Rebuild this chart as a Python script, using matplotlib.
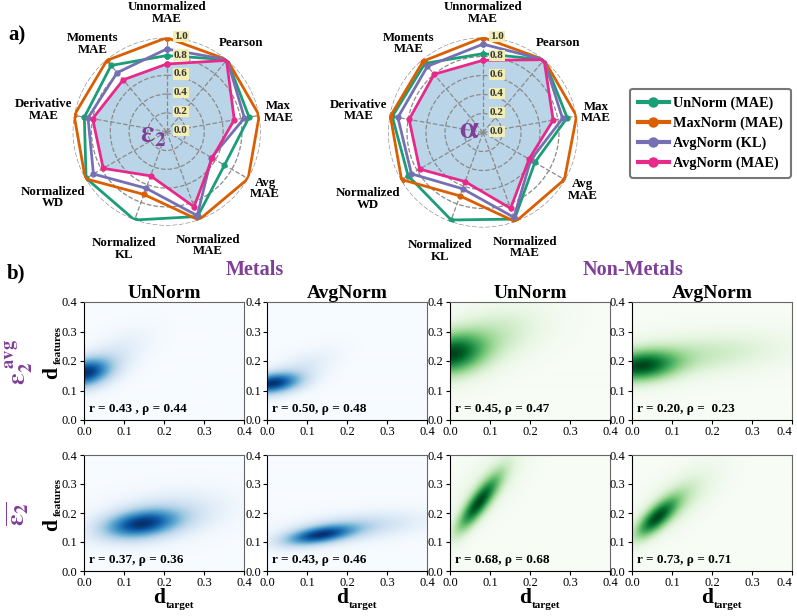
import numpy as np
import matplotlib
matplotlib.use("Agg")
import matplotlib.pyplot as plt
from matplotlib.lines import Line2D

plt.rcParams['font.family'] = ['Liberation Serif', 'DejaVu Serif']
plt.rcParams['mathtext.fontset'] = 'stix'

W, H = 797, 616

# ---------------- radar data ----------------
categories = ['Unnormalized\nMAE', 'Pearson', 'Max\nMAE', 'Avg\nMAE', 'Normalized\nMAE',
              'Normalized\nKL', 'Normalized\nWD', 'Derivative\nMAE', 'Moments\nMAE']
series_names = ['UnNorm (MAE)', 'MaxNorm (MAE)', 'AvgNorm (KL)', 'AvgNorm (MAE)']
series_colors = ['#1b9e77', '#d95f02', '#7570b3', '#e7298a']

# epsilon_2 radar
eps_unnorm = [0.81, 1.00, 0.89, 0.71, 0.96, 1.00, 0.99, 0.89, 0.92]
eps_maxnorm = [1.00, 1.00, 1.00, 1.00, 1.00, 0.71, 1.00, 1.00, 0.99]
eps_avgkl = [0.88, 1.00, 0.84, 0.55, 0.95, 0.64, 0.90, 0.85, 0.82]
eps_avgmae = [0.72, 0.99, 0.73, 0.56, 0.85, 0.50, 0.78, 0.80, 0.72]

# alpha radar
alp_unnorm = [0.83, 1.00, 0.90, 0.63, 0.97, 0.98, 0.91, 0.97, 0.95]
alp_maxnorm = [1.00, 1.00, 1.00, 0.99, 1.00, 0.71, 0.99, 0.99, 0.98]
alp_avgkl = [0.93, 1.00, 0.85, 0.58, 0.95, 0.63, 0.87, 0.91, 0.91]
alp_avgmae = [0.76, 1.00, 0.75, 0.56, 0.85, 0.55, 0.77, 0.79, 0.80]

r_ticks = [0.0, 0.2, 0.4, 0.6, 0.8, 1.0]

# ---------------- density panels ----------------
# Gaussian blobs describing each density map: cx, cy, sx, sy, corr, amplitude
kde_eavg_metal_un = [[0.00, 0.158, 0.045, 0.034, 0.3, 1.0], [0.07, 0.21, 0.06, 0.06, 0.6, 0.15]]
kde_eavg_metal_avg = [[0.01, 0.122, 0.050, 0.025, 0.3, 1.0], [0.08, 0.17, 0.06, 0.045, 0.6, 0.15]]
kde_eavg_non_un = [[0.00, 0.220, 0.060, 0.050, 0.2, 1.0], [0.10, 0.28, 0.09, 0.07, 0.4, 0.28]]
kde_eavg_non_avg = [[0.02, 0.180, 0.065, 0.037, 0.2, 1.0], [0.16, 0.22, 0.15, 0.05, 0.3, 0.28]]
kde_ebar_metal_un = [[0.14, 0.160, 0.065, 0.034, 0.3, 1.0], [0.20, 0.19, 0.10, 0.055, 0.3, 0.25]]
kde_ebar_metal_avg = [[0.13, 0.122, 0.060, 0.024, 0.5, 1.0], [0.22, 0.15, 0.11, 0.035, 0.4, 0.30]]
kde_ebar_non_un = [[0.07, 0.230, 0.038, 0.068, 0.85, 1.0], [0.10, 0.30, 0.06, 0.09, 0.7, 0.18]]
kde_ebar_non_avg = [[0.06, 0.180, 0.037, 0.048, 0.75, 1.0], [0.11, 0.24, 0.065, 0.075, 0.7, 0.30]]

corr_labels = [['r = 0.43 , ρ = 0.44', 'r = 0.50, ρ = 0.48', 'r = 0.45, ρ = 0.47', 'r = 0.20, ρ =  0.23'],
               ['r = 0.37, ρ = 0.36', 'r = 0.43, ρ = 0.46', 'r = 0.68, ρ = 0.68', 'r = 0.73, ρ = 0.71']]
col_titles = ['UnNorm', 'AvgNorm', 'UnNorm', 'AvgNorm']
purple = '#7f3f98'


def box(left, top, w, h):
    return [left / W, 1 - (top + h) / H, w / W, h / H]


def fx(x):
    return x / W


def fy(y):
    return 1 - y / H


fig = plt.figure(figsize=(W / 100, H / 100), dpi=100)


def radar(rect, data, center_txt, ctx, label_r):
    ax = fig.add_axes(rect, projection='polar')
    ax.set_theta_offset(np.pi / 2)
    ax.set_theta_direction(-1)
    n = len(categories)
    ang = np.arange(n) * 2 * np.pi / n
    angc = np.concatenate([ang, ang[:1]])
    ax.set_ylim(0, 1.0)
    ax.set_thetagrids(np.degrees(ang), [''] * n)
    ax.set_rgrids([0.2, 0.4, 0.6, 0.8, 1.0], [''] * 5)
    ax.grid(True, color='#8a8a8a', linestyle='--', linewidth=0.9)
    ax.spines['polar'].set_visible(False)
    ax.set_facecolor('none')
    for vals, c in zip(data, series_colors):
        v = np.concatenate([vals, vals[:1]])
        ax.plot(angc, v, color=c, lw=2, marker='o', ms=3.5, zorder=3)
    last = np.concatenate([data[-1], data[-1][:1]])
    ax.fill(angc, last, color='#1f77b4', alpha=0.3, zorder=1, lw=0)
    for a, lab, rr in zip(ang, categories, label_r):
        ax.text(a, rr, lab, ha='center', va='center', fontsize=9.3, fontweight='bold',
                linespacing=0.95)
    for t in r_ticks:
        ax.annotate(f'{t:.1f}', xy=(0, t), xytext=(5, 1), textcoords='offset points',
                    ha='left', va='center', fontsize=8, fontweight='bold', color='#333333',
                    bbox=dict(boxstyle='square,pad=0.1', fc='#f3efb4', ec='none'), zorder=5)
    ax.text(ctx[0], ctx[1], center_txt, transform=ax.transAxes, ha='center', va='center',
            fontsize=22, color=purple, fontweight='bold')
    return ax


lab_r = [1.26, 1.23, 1.21, 1.21, 1.29, 1.33, 1.40, 1.33, 1.22]
radar(box(72.7, 37.7, 188, 188), [eps_unnorm, eps_maxnorm, eps_avgkl, eps_avgmae],
      r'$\mathbf{\varepsilon_2}$', (0.43, 0.485), lab_r)
radar(box(388, 37.5, 190, 190), [alp_unnorm, alp_maxnorm, alp_avgkl, alp_avgmae],
      r'$\mathbf{\alpha}$', (0.43, 0.51), lab_r)

handles = [Line2D([0], [0], color=c, lw=3, marker='o', ms=6.5) for c in series_colors]
leg = fig.legend(handles, series_names, loc='center', bbox_to_anchor=(0.8915, 0.784),
                 prop={'family': 'Liberation Serif', 'weight': 'bold', 'size': 10.3},
                 frameon=True, fancybox=True, handlelength=2.2, handletextpad=0.3,
                 labelspacing=0.45, borderpad=0.55)
leg.get_frame().set_edgecolor('#555555')
leg.get_frame().set_linewidth(1.5)

# ---------------- density grid ----------------
kde_rows = [[kde_eavg_metal_un, kde_eavg_metal_avg, kde_eavg_non_un, kde_eavg_non_avg],
            [kde_ebar_metal_un, kde_ebar_metal_avg, kde_ebar_non_un, kde_ebar_non_avg]]
cmaps = ['Blues', 'Blues', 'Greens', 'Greens']
lefts = [84, 267, 450, 632]
tops = [302, 455]
heights = [118, 116]
panel_w = 160

gx = np.linspace(0, 0.4, 240)
X, Y = np.meshgrid(gx, gx)


def density(blobs):
    Z = np.zeros_like(X)
    for cx, cy, sx, sy, rho, amp in blobs:
        u = (X - cx) / sx
        v = (Y - cy) / sy
        q = (u * u - 2 * rho * u * v + v * v) / (1 - rho ** 2)
        Z += amp * np.exp(-0.5 * q)
    return Z / Z.max()


ticks = [0.0, 0.1, 0.2, 0.3, 0.4]
for i in range(2):
    for j in range(4):
        ax = fig.add_axes(box(lefts[j], tops[i], panel_w, heights[i]))
        ax.imshow(density(kde_rows[i][j]), extent=[0, 0.4, 0, 0.4], origin='lower',
                  cmap=cmaps[j], vmin=0, vmax=1, aspect='auto', interpolation='bilinear')
        ax.set_xlim(0, 0.4)
        ax.set_ylim(0, 0.4)
        ax.set_xticks(ticks)
        ax.set_yticks(ticks)
        ax.set_xticklabels([f'{t:.1f}' for t in ticks])
        ax.set_yticklabels([f'{t:.1f}' for t in ticks])
        ax.tick_params(labelsize=9, length=3, width=0.8, pad=1.5)
        if j == 3:
            ax.get_xticklabels()[-1].set_ha('right')
        for s in ['top', 'right']:
            ax.spines[s].set_color('#666666')
        for s in ['left', 'bottom']:
            ax.spines[s].set_color('black')
        ax.text(0.03, 0.04, corr_labels[i][j], transform=ax.transAxes, fontsize=9.5,
                fontweight='bold', ha='left', va='bottom')
        if i == 0:
            ax.set_title(col_titles[j], fontsize=14, fontweight='bold', pad=3)
        cx = lefts[j] + panel_w / 2
        if i == 1:
            fig.text(fx(cx - 11), fy(603), 'd', fontsize=15.5, fontweight='bold',
                     ha='left', va='baseline')
            fig.text(fx(cx + 2), fy(607.5), 'target', fontsize=8, fontweight='bold',
                     ha='left', va='baseline')
        if j == 0:
            cy = tops[i] + heights[i] / 2
            fig.text(fx(57), fy(cy + 18), 'd', fontsize=15.5, fontweight='bold', rotation=90,
                     rotation_mode='anchor', ha='left', va='baseline')
            fig.text(fx(60.5), fy(cy + 3), 'features', fontsize=8, fontweight='bold',
                     rotation=90, rotation_mode='anchor', ha='left', va='baseline')

fig.text(fx(8), fy(35), 'a)', fontsize=15, fontweight='bold', va='center', ha='left')
fig.text(fx(7), fy(273), 'b)', fontsize=15, fontweight='bold', va='center', ha='left')
fig.text(fx(255), fy(270), 'Metals', fontsize=14.5, fontweight='bold', color=purple,
         ha='center', va='center')
fig.text(fx(633), fy(270), 'Non-Metals', fontsize=14.5, fontweight='bold', color=purple,
         ha='center', va='center')
fig.text(fx(20), fy(362), r'$\mathbf{\varepsilon_2^{\ avg}}$', fontsize=19, color=purple,
         rotation=90, ha='center', va='center')
fig.text(fx(18), fy(514), r'$\mathbf{\overline{\varepsilon_2}}$', fontsize=19, color=purple,
         rotation=90, ha='center', va='center')

fig.savefig('out.png', dpi=100)
